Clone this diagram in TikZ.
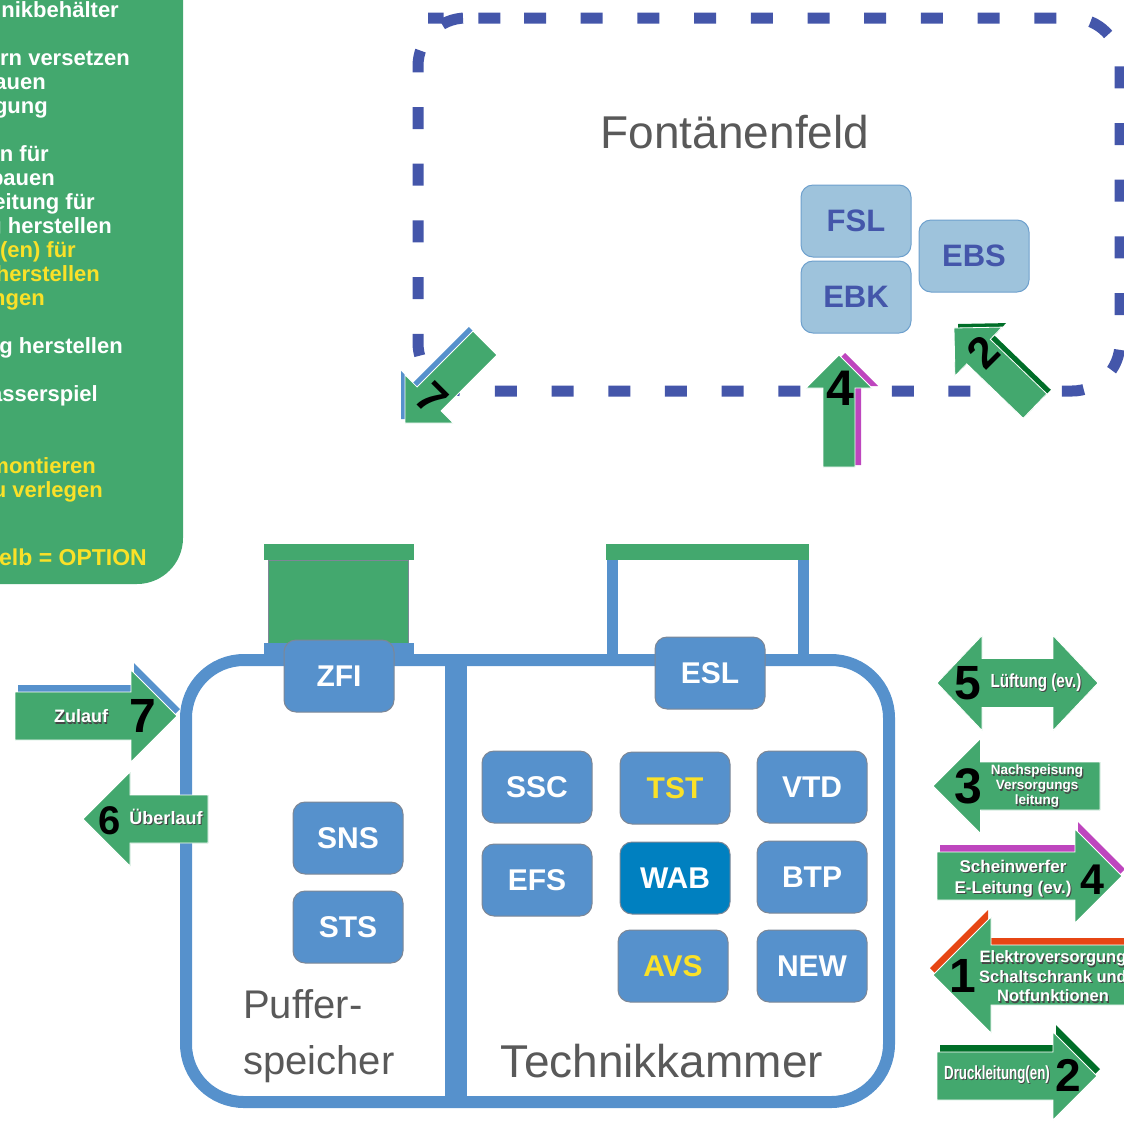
\documentclass[tikz,border=0pt]{standalone}
\usepackage{fontspec}
\setmainfont{Liberation Sans}
\usepackage{graphicx}
\usetikzlibrary{calc}

\definecolor{gruen}{RGB}{67,168,110}
\definecolor{tankblau}{RGB}{86,145,204}
\definecolor{wabblau}{RGB}{0,128,192}
\definecolor{feldblau}{RGB}{68,86,170}
\definecolor{hellblau}{RGB}{158,195,220}
\definecolor{hellrand}{RGB}{110,160,205}
\definecolor{kastenrand}{RGB}{125,135,150}
\definecolor{gelb}{RGB}{250,225,40}
\definecolor{grau}{RGB}{89,89,89}
\definecolor{lila}{RGB}{190,70,190}
\definecolor{rot}{RGB}{230,70,20}
\definecolor{dunkelgruen}{RGB}{0,110,40}
\definecolor{schattengrau}{RGB}{70,70,70}

% Schrift mit Schatten
\newcommand{\schatten}[1]{\rlap{\kern1.2pt\raisebox{-1.2pt}{\textcolor{schattengrau}{#1}}}#1}

% Pfeilumriss: Ende, Spitze, halbe Schaftbreite, halbe Kopfbreite
\newcommand{\pfeilform}[4]{($(#1)!#3!90:(#2)$) -- ($(#1kopf)!#3!-90:(#1)$) -- ($(#1kopf)!#4!-90:(#1)$) -- (#2) -- ($(#1kopf)!#4!90:(#1)$) -- ($(#1kopf)!#3!90:(#1)$) -- ($(#1)!#3!-90:(#2)$) -- cycle}

% Pfeil mit farbiger Kante
\newcommand{\pfeil}[6]{%
  \coordinate (#1kopf) at ($(#2)!#4!(#1)$);
  \fill[#5, transform canvas={#6}] \pfeilform{#1}{#2}{#3}{#4};
  \filldraw[pfeil] \pfeilform{#1}{#2}{#3}{#4};
}

\begin{document}
\begin{tikzpicture}[x=1pt, y=-1pt,
    kasten/.style={rectangle, rounded corners=12pt, fill=tankblau, draw=kastenrand, line width=1pt,
        minimum width=110pt, minimum height=72pt, inner sep=0pt, text=white,
        font=\fontsize{30}{36}\selectfont\bfseries},
    feldkasten/.style={kasten, fill=hellblau, draw=hellrand, text=feldblau,
        font=\fontsize{31}{36}\selectfont\bfseries},
    pfeil/.style={fill=gruen, draw=white, line width=0.8pt},
    ziffer/.style={inner sep=0pt, text=black, font=\fontsize{48}{48}\selectfont\bfseries},
    pfeiltext/.style={inner sep=0pt, text=white, align=center},
    liste/.style={anchor=base east, inner sep=0pt, text=white, font=\fontsize{22}{24}\selectfont\bfseries},
    titel/.style={inner sep=0pt, text=grau, anchor=base, font=\fontsize{46}{52}\selectfont}
]
\useasboundingbox (0,0) rectangle (1124,1120);

% Legende (links oben)
\fill[gruen, rounded corners=46pt] (-80,-80) rectangle (183,584);
\node[liste] (l1) at (119,17) {nikbehälter};
\node[liste] (l2) at (130,65) {ern versetzen};
\node[liste] (l3) at (46,89) {auen};
\node[liste] (l4) at (48,113) {gung};
\node[liste] (l5) at (49,161) {en für};
\node[liste] (l6) at (55,185) {bauen};
\node[liste] (l7) at (95,209) {eitung für};
\node[liste] (l8) at (112,233) {g herstellen};
\node[liste, text=gelb] (l9) at (76,257) {(en) für};
\node[liste, text=gelb] (l10) at (100,281) {herstellen};
\node[liste, text=gelb] (l11) at (45,305) {ngen};
\node[liste] (l12) at (123,353) {g herstellen};
\node[liste] (l13) at (98,401) {asserspiel};
\node[liste, text=gelb] (l14) at (96,473) {montieren};
\node[liste, text=gelb] (l15) at (103,497) {u verlegen};
\node[liste, text=gelb, font=\fontsize{23}{26}\selectfont\bfseries] (l16) at (147,565) {elb = OPTION};

% Fontänenfeld
\draw[feldblau, line width=11pt, dash pattern=on 22pt off 34.7pt, rounded corners=48pt]
    (476,18) -- (1120,18) -- (1120,391) -- (418,391) -- (418,18) -- cycle;
\node[titel] (feld) at (735,148) {Fontänenfeld};

\node[feldkasten] (FSL) at (856,221) {FSL};
\node[feldkasten] (EBK) at (856,297) {EBK};
\node[feldkasten] (EBS) at (974,256) {EBS};

% Pfeile im Fontänenfeld
\coordinate (f7a) at (485,343);
\coordinate (f7b) at (405,423);
\pfeil{f7a}{f7b}{17pt}{34pt}{tankblau}{xshift=-4pt,yshift=4pt}
\node[ziffer, rotate=-45, font=\fontsize{44}{44}\selectfont\bfseries] (f7) at (432,398) {7};

\coordinate (f4a) at (839,467);
\coordinate (f4b) at (839,355);
\pfeil{f4a}{f4b}{16pt}{33pt}{lila}{xshift=6pt,yshift=2pt}
\node[ziffer, font=\fontsize{50}{50}\selectfont\bfseries] (f4) at (840,388) {4};

\coordinate (f2a) at (1035,406);
\coordinate (f2b) at (954,328);
\pfeil{f2a}{f2b}{17pt}{34pt}{dunkelgruen}{xshift=4pt,yshift=4pt}
\node[ziffer, rotate=45, font=\fontsize{44}{44}\selectfont\bfseries] (f2) at (983,352) {2};

% Aufbauten
\fill[gruen, draw=kastenrand, line width=0.8pt] (268,560) rectangle (408,643);
\fill[gruen] (264,544) rectangle (414,560);
\fill[tankblau] (264,643) rectangle (414,656);
\fill[tankblau] (607,556) rectangle (618,660);
\fill[tankblau] (798,556) rectangle (809,660);
\fill[gruen] (606,544) rectangle (809,560);

% Behälter
\draw[tankblau, line width=12pt, rounded corners=58pt] (186,660) rectangle (889,1102);
\draw[tankblau, line width=22pt] (456,660) -- (456,1102);

\node[kasten] (ZFI) at (339,676) {ZFI};
\node[kasten] (ESL) at (710,673) {ESL};
\node[kasten] (SNS) at (348,838) {SNS};
\node[kasten] (STS) at (348,927) {STS};
\node[kasten] (SSC) at (537,787) {SSC};
\node[kasten, text=gelb] (TST) at (675,788) {TST};
\node[kasten] (VTD) at (812,787) {VTD};
\node[kasten] (EFS) at (537,880) {EFS};
\node[kasten, fill=wabblau] (WAB) at (675,878) {WAB};
\node[kasten] (BTP) at (812,877) {BTP};
\node[kasten, text=gelb] (AVS) at (673,966) {AVS};
\node[kasten] (NEW) at (812,966) {NEW};

\node[titel, anchor=base west, font=\fontsize{40}{48}\selectfont] (puffer1) at (243,1018) {Puffer-};
\node[titel, anchor=base west, font=\fontsize{40}{48}\selectfont] (puffer2) at (243,1074) {speicher};
\node[titel] (technik) at (662,1077) {Technikkammer};

% Zulauf / Überlauf
\coordinate (z7a) at (15,716);
\coordinate (z7b) at (177,716);
\pfeil{z7a}{z7b}{24pt}{46pt}{tankblau}{xshift=3pt,yshift=7pt}
\node[pfeiltext, font=\fontsize{18}{20}\selectfont\bfseries] (zulauf) at (81,717) {\schatten{Zulauf}};
\node[ziffer] (z7) at (143,716) {7};

\coordinate (u6a) at (208,819);
\coordinate (u6b) at (83,819);
\pfeil{u6a}{u6b}{24pt}{47pt}{gruen}{xshift=0pt}
\node[ziffer, font=\fontsize{40}{40}\selectfont\bfseries] (u6) at (110,821) {6};
\node[pfeiltext, font=\fontsize{18}{20}\selectfont\bfseries] (ueberlauf) at (166,817) {\schatten{Überlauf}};

% Leitungen rechts
\filldraw[pfeil] (937,683) -- (982,635.5) -- (982,658.5) -- (1053,658.5) -- (1053,635.5) -- (1098,683)
    -- (1053,730.5) -- (1053,707.5) -- (982,707.5) -- (982,730.5) -- cycle;
\node[ziffer] (l5z) at (968,683) {5};
\node[pfeiltext, font=\fontsize{19}{20}\selectfont\bfseries] (lueftung) at (1036,683)
    {\scalebox{0.8}[1]{\schatten{Lüftung (ev.)}}};

\coordinate (n3a) at (1100,786);
\coordinate (n3b) at (933,786);
\pfeil{n3a}{n3b}{24pt}{47.5pt}{gruen}{xshift=0pt}
\node[ziffer, font=\fontsize{50}{50}\selectfont\bfseries] (n3) at (968,786) {3};
\node[pfeiltext, font=\fontsize{13.5}{15}\selectfont\bfseries] (nachspeisung) at (1037,787)
    {\schatten{Nachspeisung}\\\schatten{Versorgungs}\\\schatten{leitung}};

\coordinate (s4a) at (937,876);
\coordinate (s4b) at (1122,876);
\pfeil{s4a}{s4b}{24pt}{47pt}{lila}{xshift=3pt,yshift=7pt}
\node[ziffer, font=\fontsize{43}{43}\selectfont\bfseries] (s4) at (1092,880) {4};
\node[pfeiltext, font=\fontsize{17}{21}\selectfont\bfseries] (scheinwerfer) at (1013,879)
    {\schatten{Scheinwerfer}\\\schatten{E-Leitung (ev.)}};

\coordinate (e1a) at (1140,975);
\coordinate (e1b) at (933,975);
\pfeil{e1a}{e1b}{30pt}{58pt}{rot}{xshift=-3pt,yshift=7pt}
\node[ziffer] (e1) at (963,976) {1};
\node[pfeiltext, font=\fontsize{16.5}{19.5}\selectfont\bfseries] (elektro) at (1053,977)
    {\schatten{Elektroversorgung}\\\schatten{Schaltschrank und}\\\schatten{Notfunktionen}};

\coordinate (d2a) at (937,1076);
\coordinate (d2b) at (1097,1076);
\pfeil{d2a}{d2b}{24pt}{44pt}{dunkelgruen}{xshift=3pt,yshift=7pt}
\node[ziffer, font=\fontsize{46}{46}\selectfont\bfseries] (d2) at (1068,1075) {2};
\node[pfeiltext, font=\fontsize{19}{20}\selectfont\bfseries] (druck) at (997,1075)
    {\scalebox{0.7}[1]{\schatten{Druckleitung(en)}}};

\end{tikzpicture}
\end{document}
